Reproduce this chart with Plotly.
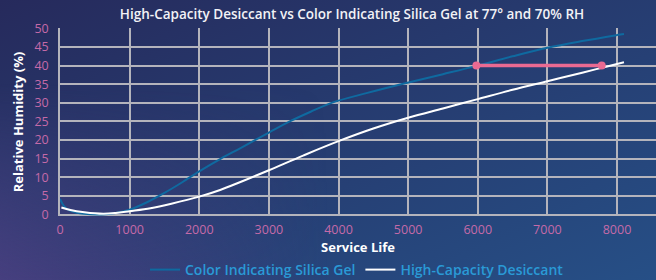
import plotly.graph_objects as go
import base64

# Data
gel_x = [0, 60, 150, 350, 600, 800, 1000, 1250, 1500, 1750, 2000, 2300, 2600, 3000, 3300, 3600, 3900, 4400, 4900, 5500, 6000, 6500, 7000, 7500, 8000, 8100]
gel_y = [4.2, 2.2, 1.0, 0.2, 0.0, 0.4, 1.3, 3.3, 5.8, 8.6, 11.6, 14.9, 17.9, 22.0, 25.0, 27.6, 30.0, 32.6, 35.0, 37.7, 40.0, 42.5, 44.8, 46.6, 48.2, 48.5]
hc_x = [20, 150, 350, 620, 800, 1000, 1300, 1600, 2000, 2300, 2600, 3000, 3500, 4000, 4500, 5000, 5500, 6000, 6500, 7000, 7500, 7800, 8100]
hc_y = [1.9, 1.2, 0.6, 0.2, 0.4, 0.9, 1.7, 2.9, 4.8, 6.6, 8.8, 11.9, 15.9, 19.7, 23.1, 26.0, 28.5, 31.0, 33.5, 35.8, 38.1, 39.5, 40.9]
gap_x = [5980, 7780]
gap_y = [40, 40]
x_ticks = [0, 1000, 2000, 3000, 4000, 5000, 6000, 7000, 8000]
y_ticks = [0, 5, 10, 15, 20, 25, 30, 35, 40, 45, 50]

FONT = "Open Sans"
W, H = 656, 280
ML, MR, MT, MB = 60, 0, 28, 64
PW, PH = W - ML - MR, H - MT - MB

svg = '''<svg xmlns="http://www.w3.org/2000/svg" width="656" height="280">
<defs>
<linearGradient id="g" x1="0" y1="0" x2="1" y2="1">
<stop offset="0" stop-color="#262a5c"/>
<stop offset="1" stop-color="#264f86"/>
</linearGradient>
<linearGradient id="p" x1="0" y1="0" x2="1" y2="0">
<stop offset="0" stop-color="#4a3f80" stop-opacity="0.9"/>
<stop offset="0.5" stop-color="#4a3f80" stop-opacity="0"/>
</linearGradient>
<linearGradient id="v" x1="0" y1="0" x2="0" y2="1">
<stop offset="0.3" stop-color="#fff" stop-opacity="0"/>
<stop offset="1" stop-color="#fff" stop-opacity="1"/>
</linearGradient>
<mask id="m"><rect width="656" height="280" fill="url(#v)"/></mask>
</defs>
<rect width="656" height="280" fill="url(#g)"/>
<rect width="656" height="280" fill="url(#p)" mask="url(#m)"/>
</svg>'''
uri = "data:image/svg+xml;base64," + base64.b64encode(svg.encode()).decode()

fig = go.Figure()
fig.add_trace(go.Scatter(x=gel_x, y=gel_y, mode="lines", name="Color Indicating Silica Gel",
                         line=dict(color="#0f6aa0", width=2, shape="spline", smoothing=1)))
fig.add_trace(go.Scatter(x=hc_x, y=hc_y, mode="lines", name="High-Capacity Desiccant",
                         line=dict(color="#ffffff", width=2, shape="spline", smoothing=1)))
fig.add_trace(go.Scatter(x=gap_x, y=gap_y, mode="lines+markers", showlegend=False,
                         line=dict(color="#ea6a92", width=3.5),
                         marker=dict(color="#ea6a92", size=8)))

fig.update_layout(
    width=W, height=H,
    margin=dict(l=ML, r=MR, t=MT, b=MB, autoexpand=False),
    paper_bgcolor="#262c5e",
    plot_bgcolor="rgba(35,42,92,0.45)",
    images=[dict(source=uri, xref="paper", yref="paper", x=-ML / PW, y=1 + MT / PH,
                 sizex=W / PW, sizey=H / PH, xanchor="left", yanchor="top",
                 sizing="stretch", layer="below")],
    title=dict(text="High-Capacity Desiccant vs Color Indicating Silica Gel at 77° and 70% RH",
               x=(352 - ML) / PW, xref="paper", xanchor="center", y=1 - 14 / H, yanchor="middle",
               font=dict(family=FONT, size=13.5, color="#f2f2f6", weight=600)),
    font=dict(family=FONT),
    xaxis=dict(range=[0, 8560], tickvals=x_ticks, showgrid=True, gridcolor="#b4b4bc", gridwidth=1.5,
               zeroline=False, showline=False, ticks="", ticklabelstandoff=4,
               tickfont=dict(family=FONT, size=12.5, color="#c56aa8"),
               title=dict(text="Service Life", font=dict(family=FONT, size=13, color="#ffffff", weight=700), standoff=6)),
    yaxis=dict(range=[-0.4, 50.1], tickvals=y_ticks, showgrid=True, gridcolor="#b4b4bc", gridwidth=1.5,
               zeroline=False, showline=True, linecolor="#b4b4bc", linewidth=1.5, ticks="",
               ticklabelstandoff=7,
               tickfont=dict(family=FONT, size=12.5, color="#c56aa8"),
               title=dict(text="Relative Humidity (%)", font=dict(family=FONT, size=13, color="#ffffff", weight=700), standoff=8)),
    legend=dict(orientation="h", x=(357 - ML) / PW, xanchor="center", y=-(270 - (MT + PH)) / PH, yanchor="middle",
                font=dict(family=FONT, size=14, color="#2a9ad6", weight=600),
                bgcolor="rgba(0,0,0,0)", itemwidth=30, tracegroupgap=0),
)
fig.write_html("out.html", config={"displayModeBar": False},
               post_script="document.body.style.margin='0';document.body.style.overflow='hidden';")
